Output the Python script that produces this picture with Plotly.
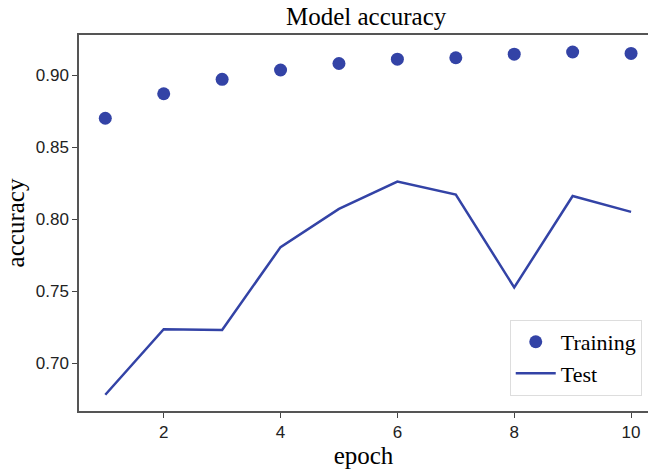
import plotly.graph_objects as go

epochs = [1, 2, 3, 4, 5, 6, 7, 8, 9, 10]
training = [0.870, 0.887, 0.897, 0.9035, 0.908, 0.911, 0.912, 0.9145, 0.916, 0.915]
test = [0.678, 0.7235, 0.723, 0.7805, 0.807, 0.826, 0.817, 0.7525, 0.816, 0.805]
x_ticks = [2, 4, 6, 8, 10]
y_ticks = [0.70, 0.75, 0.80, 0.85, 0.90]

color = "#3343a6"
fig = go.Figure()
fig.add_trace(go.Scatter(x=epochs, y=training, mode="markers", name="Training",
                         marker=dict(color=color, size=13)))
fig.add_trace(go.Scatter(x=epochs, y=test, mode="lines", name="Test",
                         line=dict(color=color, width=2.5)))

fig.update_layout(
    width=648, height=469,
    margin=dict(l=79, r=0, t=35, b=58),
    paper_bgcolor="white", plot_bgcolor="white",
    title=dict(text="Model accuracy", x=0.565, xanchor="center", y=0.965, yanchor="middle",
               font=dict(family="Liberation Serif", size=25, color="black")),
    showlegend=True,
    legend=dict(x=0.989, y=0.04, xanchor="right", yanchor="bottom",
                bgcolor="white", bordercolor="#dddddd", borderwidth=1,
                font=dict(family="Liberation Serif", size=22, color="black"),
                tracegroupgap=0, itemwidth=40),
)
fig.update_xaxes(range=[0.55, 10.29], tickvals=x_ticks, ticks="outside", ticklen=5,
                 tickcolor="#444", showline=True, linecolor="#555", linewidth=1.5,
                 mirror=True, showgrid=False, zeroline=False,
                 tickfont=dict(family="Liberation Sans", size=17, color="#222"),
                 title=dict(text="epoch", standoff=2,
                            font=dict(family="Liberation Serif", size=25, color="black")))
fig.update_yaxes(range=[0.6667, 0.9278], tickvals=y_ticks, tickformat=".2f", ticks="outside",
                 ticklen=5, tickcolor="#444", showline=True, linecolor="#555", linewidth=1.5,
                 showgrid=False, zeroline=False,
                 tickfont=dict(family="Liberation Sans", size=17, color="#222"),
                 title=dict(text="accuracy", standoff=4,
                            font=dict(family="Liberation Serif", size=25, color="black")))

fig.write_html("out.html")
